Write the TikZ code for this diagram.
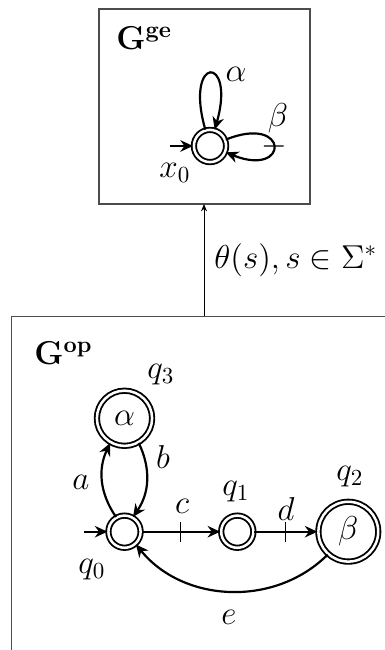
\documentclass[tikz,border=0pt]{standalone}
\usepackage{amsmath,amssymb}
\usepackage{tikz}
\usetikzlibrary{arrows.meta,calc,decorations.markings}

\begin{document}
\begin{tikzpicture}[x=0.4348pt,y=0.4348pt,>={Stealth[length=5.5pt,width=5pt]},
  state/.style={circle,draw,line width=0.8pt,double,double distance=1.1pt,inner sep=0pt,minimum size=14pt},
  bigstate/.style={state,minimum size=24pt,font=\Large},
  trans/.style={->,line width=0.95pt},
  cutmark/.style={postaction={decorate},decoration={markings,
    mark=at position 0.5 with {\draw[-,line width=0.5pt] (0,-4.3pt) -- (0,4.3pt);}}},
  frame/.style={draw=black!70,line width=0.5pt},
  lbl/.style={font=\Large}]
  \useasboundingbox (0,0) rectangle (385,650);
  \clip (0,0) rectangle (385,650);
  % observer automaton
  \draw[frame] (99,446) rectangle (310,641);
  \coordinate (geS) at (204,446);
  \node[anchor=base west,font=\Large,inner sep=0pt] at (116,600) {$\mathbf{G}^{\mathbf{ge}}$};
  \node[state] (x0) at (210,504) {};
  \coordinate (x0in) at (170,504);
  \draw[trans] (x0in) -- (x0);
  \draw[trans] (x0) to[out=106,in=74,min distance=34pt] (x0);
  \draw[trans,cutmark] (x0) to[out=22,in=-22,min distance=30pt] (x0);
  \node[lbl] at (236,576) {$\alpha$};
  \node[lbl] at (278,532) {$\beta$};
  \node[lbl] at (175,477) {$x_0$};
  % projection of the plant strings
  \coordinate (opN) at (204,333.3);
  \draw[-{Stealth[length=3.2pt,width=2.6pt]},line width=0.4pt] (opN) -- (geS)
    node[midway,right=1pt,lbl] {$\theta(s), s\in\Sigma^*$};
  % plant automaton
  \draw[frame] (11.7,-30) rectangle (420,333.3);
  \node[anchor=base west,font=\Large,inner sep=0pt] at (34,285) {$\mathbf{G}^{\mathbf{op}}$};
  \node[state] (q0) at (124.5,118.3) {};
  \node[bigstate] (q3) at (124.5,231.7) {$\alpha$};
  \node[state] (q1) at (237.3,118.3) {};
  \node[bigstate,minimum size=26pt] (q2) at (348.3,118.3) {$\beta$};
  \node[lbl] at (92,80) {$q_0$};
  \node[lbl] at (161,275) {$q_3$};
  \node[lbl] at (236,158) {$q_1$};
  \node[lbl] at (350,173) {$q_2$};
  \coordinate (q0in) at (84,118.3);
  \draw[trans] (q0in) -- (q0);
  \draw[trans] (q0) to[bend left=30] (q3);
  \draw[trans] (q3) to[bend left=30] (q0);
  \draw[trans,cutmark] (q0) -- (q1);
  \draw[trans,cutmark] (q1) -- (q2);
  \draw[trans] (q2) to[bend left=48] (q0);
  \node[lbl] at (81,168) {$a$};
  \node[lbl] at (163,193) {$b$};
  \node[lbl] at (182,144) {$c$};
  \node[lbl] at (286,141) {$d$};
  \node[lbl] at (229,33) {$e$};
\end{tikzpicture}
\end{document}
